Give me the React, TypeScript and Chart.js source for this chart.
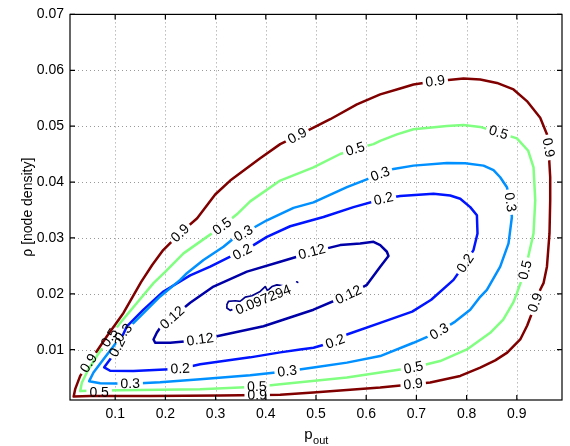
import { useEffect, useRef } from 'react';
import { Chart, registerables } from 'chart.js';

Chart.register(...registerables);

const FONT = '"Liberation Sans", Arial, Helvetica, sans-serif';

const xTicks = [0.1, 0.2, 0.3, 0.4, 0.5, 0.6, 0.7, 0.8, 0.9];
const xTickLabels = ['0.1', '0.2', '0.3', '0.4', '0.5', '0.6', '0.7', '0.8', '0.9'];
const yTicks = [0.01, 0.02, 0.03, 0.04, 0.05, 0.06, 0.07];
const yTickLabels = ['0.01', '0.02', '0.03', '0.04', '0.05', '0.06', '0.07'];

const levelNames = ['0.097294', '0.12', '0.2', '0.3', '0.5', '0.9'];
const levelColors = ['#00008c', '#0000a8', '#0014ff', '#0090ff', '#80ff80', '#800000'];
const levelWidths = [1.7, 2.5, 2.5, 2.5, 2.5, 2.5];

const contour0097 = [
  [0.3225, 0.01805], [0.3257, 0.01864], [0.339, 0.01876], [0.349, 0.01864], [0.359, 0.01942],
  [0.3723, 0.01965], [0.3888, 0.02042], [0.3988, 0.0213], [0.4034, 0.02059], [0.4122, 0.0213],
  [0.4221, 0.02161], [0.4353, 0.02143], [0.4452, 0.02113], [0.4486, 0.02059], [0.4386, 0.01983],
  [0.4088, 0.01894], [0.3789, 0.01823], [0.3456, 0.01764], [0.3291, 0.01704], [0.3225, 0.01747],
  [0.3225, 0.01805],
];
const contour0097Dot = [[0.4615, 0.02214], [0.4635, 0.02205]];

const contour012 = [
  [0.1797, 0.01124], [0.2096, 0.01124], [0.2428, 0.01153], [0.2693, 0.01183], [0.3026, 0.01242],
  [0.3954, 0.01419], [0.495, 0.01716], [0.5647, 0.01983], [0.6014, 0.02161], [0.6279, 0.02486],
  [0.6444, 0.02676], [0.6412, 0.02753], [0.6279, 0.02872], [0.6145, 0.0293], [0.588, 0.02902],
  [0.5482, 0.02872], [0.5217, 0.02813], [0.4918, 0.02753], [0.462, 0.02664], [0.4287, 0.02575],
  [0.3624, 0.02397], [0.2958, 0.0213], [0.2494, 0.01841], [0.2135, 0.01574], [0.1962, 0.0148],
  [0.1831, 0.01307], [0.1763, 0.01183], [0.1797, 0.01124],
];

const contour02 = [
  [0.0781, 0.00685], [0.09, 0.00623], [0.1365, 0.0062], [0.2295, 0.00659], [0.2693, 0.00739],
  [0.3689, 0.00863], [0.4287, 0.00952], [0.4685, 0.01005], [0.495, 0.01036], [0.5382, 0.01147],
  [0.5616, 0.01272], [0.6279, 0.0148], [0.6916, 0.01681], [0.7295, 0.01894], [0.7739, 0.0225],
  [0.7972, 0.02546], [0.8137, 0.02783], [0.8217, 0.0308], [0.8205, 0.03405], [0.8072, 0.03552],
  [0.7873, 0.03702], [0.7673, 0.0376], [0.7341, 0.03791], [0.6677, 0.03751], [0.6345, 0.03702],
  [0.5747, 0.03552], [0.5149, 0.03375], [0.4486, 0.03209], [0.4022, 0.03019], [0.353, 0.02747],
  [0.3291, 0.02664], [0.2892, 0.02486], [0.2494, 0.0233], [0.1962, 0.02042], [0.1564, 0.01716],
  [0.1233, 0.01419], [0.104, 0.01041], [0.09, 0.00828], [0.0781, 0.00685],
];

const contour03 = [
  [0.0482, 0.00437], [0.0701, 0.00401], [0.1299, 0.00392], [0.1896, 0.00419], [0.2693, 0.00472],
  [0.3689, 0.00543], [0.4426, 0.00614], [0.495, 0.0068], [0.5616, 0.00769], [0.6279, 0.00886],
  [0.6942, 0.01124], [0.7454, 0.01325], [0.7773, 0.01503], [0.8072, 0.01716], [0.8271, 0.01947],
  [0.8404, 0.02072], [0.8669, 0.02486], [0.8835, 0.02902], [0.8902, 0.03375], [0.8869, 0.03641],
  [0.8803, 0.03908], [0.8669, 0.04086], [0.8536, 0.04214], [0.8337, 0.04294], [0.7972, 0.04338],
  [0.7608, 0.04342], [0.6942, 0.04294], [0.6544, 0.04235], [0.6279, 0.04143], [0.5616, 0.03908],
  [0.495, 0.03636], [0.4552, 0.03538], [0.4022, 0.03316], [0.3556, 0.0308], [0.3357, 0.02991],
  [0.3157, 0.02841], [0.2759, 0.02605], [0.2428, 0.02369], [0.2295, 0.0225], [0.1896, 0.01953],
  [0.1498, 0.01597], [0.1165, 0.01302], [0.0966, 0.01064], [0.0767, 0.00828], [0.0568, 0.00591],
  [0.0482, 0.00437],
];

const contour05 = [
  [0.0303, 0.00259], [0.0701, 0.00268], [0.2693, 0.00294], [0.3823, 0.00339], [0.4287, 0.00383],
  [0.5616, 0.00502], [0.6279, 0.00591], [0.6942, 0.0068], [0.7474, 0.00797], [0.8006, 0.01005],
  [0.847, 0.01302], [0.8729, 0.01539], [0.8928, 0.01841], [0.9002, 0.02013], [0.9167, 0.02427],
  [0.9333, 0.0308], [0.9367, 0.03672], [0.9333, 0.04263], [0.9227, 0.0456], [0.9002, 0.04782],
  [0.8635, 0.04886], [0.8271, 0.04987], [0.7938, 0.05022], [0.7608, 0.05005], [0.6942, 0.04946],
  [0.6612, 0.04854], [0.6279, 0.04738], [0.6145, 0.04679], [0.5781, 0.0459], [0.5482, 0.04502],
  [0.495, 0.04263], [0.4287, 0.04027], [0.3689, 0.03654], [0.3424, 0.03423], [0.3131, 0.03209],
  [0.2827, 0.03019], [0.2361, 0.02724], [0.1996, 0.02392], [0.1763, 0.02191], [0.1432, 0.01835],
  [0.11, 0.0148], [0.0886, 0.01213], [0.0635, 0.00886], [0.0468, 0.0065], [0.0337, 0.00413],
  [0.0303, 0.00259],
];

const contour09 = [
  [0.0173, 0.00161], [0.0502, 0.0017], [0.1697, 0.0017], [0.3092, 0.00179], [0.4287, 0.00193],
  [0.4944, 0.00236], [0.5681, 0.00285], [0.6279, 0.00325], [0.6936, 0.00383], [0.7275, 0.00413],
  [0.7873, 0.00531], [0.8271, 0.0068], [0.857, 0.0081], [0.8809, 0.00947], [0.9068, 0.01183],
  [0.9207, 0.01432], [0.9327, 0.01716], [0.9466, 0.02072], [0.9532, 0.02191], [0.96, 0.02486],
  [0.9651, 0.0308], [0.9665, 0.03672], [0.9665, 0.04086], [0.9631, 0.04619], [0.96, 0.04857],
  [0.9466, 0.05152], [0.9201, 0.05449], [0.8934, 0.05657], [0.8604, 0.05774], [0.8271, 0.05835],
  [0.7938, 0.05852], [0.7739, 0.05835], [0.7375, 0.05804], [0.6942, 0.05746], [0.6677, 0.05675],
  [0.6279, 0.05568], [0.5815, 0.0539], [0.5283, 0.05124], [0.495, 0.04974], [0.4625, 0.04827],
  [0.4287, 0.04679], [0.3888, 0.04427], [0.3291, 0.04027], [0.2992, 0.03778], [0.2633, 0.03352],
  [0.2295, 0.03085], [0.1956, 0.02783], [0.1737, 0.02516], [0.1518, 0.02214], [0.1165, 0.01658],
  [0.0835, 0.01242], [0.0472, 0.00757], [0.0303, 0.00531], [0.0203, 0.00294], [0.0173, 0.00161],
];

// [level index, x, y, text angle in degrees]
const contourLabels: [number, number, number, number][] = [
  [5, 0.0472, 0.00757, -57], [5, 0.2295, 0.03085, -43], [5, 0.4625, 0.04827, -28],
  [5, 0.7375, 0.05804, -7], [5, 0.9631, 0.04619, 80], [5, 0.9367, 0.01841, -70],
  [5, 0.6936, 0.00383, -6], [5, 0.3829, 0.00188, -1],
  [4, 0.0886, 0.01213, -56], [4, 0.3131, 0.03209, -36], [4, 0.5781, 0.0459, -17],
  [4, 0.8635, 0.04886, 17], [4, 0.9167, 0.02427, -76], [4, 0.6942, 0.0068, -11],
  [4, 0.3823, 0.00339, -2], [4, 0.0681, 0.00232, 0],
  [3, 0.1165, 0.01302, -50], [3, 0.3556, 0.0308, -30], [3, 0.6279, 0.04143, -21],
  [3, 0.8869, 0.03641, 81], [3, 0.7454, 0.01325, -30], [3, 0.4426, 0.00614, -7],
  [3, 0.1299, 0.00392, -1],
  [2, 0.104, 0.01041, -62], [2, 0.353, 0.02747, -28], [2, 0.6345, 0.03702, -13],
  [2, 0.7972, 0.02546, -56], [2, 0.5382, 0.01147, -20], [2, 0.2295, 0.00659, -3],
  [1, 0.2135, 0.01574, -42], [1, 0.4918, 0.02753, -15], [1, 0.5647, 0.01983, -25],
  [1, 0.2693, 0.01183, -8],
  [0, 0.3948, 0.01894, -22],
];

const series: { data: number[][]; level: number }[] = [
  { data: contour09, level: 5 },
  { data: contour05, level: 4 },
  { data: contour03, level: 3 },
  { data: contour02, level: 2 },
  { data: contour012, level: 1 },
  { data: contour0097, level: 0 },
  { data: contour0097Dot, level: 0 },
];

const LABEL_FONT = `14px ${FONT}`;

function labelGeom(chart: any, lab: [number, number, number, number]) {
  const { x, y } = chart.scales;
  return {
    cx: x.getPixelForValue(lab[1]),
    cy: y.getPixelForValue(lab[2]),
    r: (lab[3] * Math.PI) / 180,
  };
}

const decoPlugin = {
  id: 'contourDeco',
  beforeDatasetsDraw(chart: any) {
    const { ctx, chartArea: a, scales } = chart;
    ctx.save();
    ctx.strokeStyle = '#999999';
    ctx.lineWidth = 1;
    ctx.setLineDash([1, 3]);
    ctx.beginPath();
    xTicks.forEach((v) => {
      const px = Math.round(scales.x.getPixelForValue(v)) + 0.5;
      ctx.moveTo(px, a.top);
      ctx.lineTo(px, a.bottom);
    });
    yTicks.forEach((v) => {
      const py = Math.round(scales.y.getPixelForValue(v)) + 0.5;
      if (py > a.top + 2) {
        ctx.moveTo(a.left, py);
        ctx.lineTo(a.right, py);
      }
    });
    ctx.stroke();
    ctx.restore();
  },
  beforeDatasetDraw(chart: any, args: any) {
    const ds = chart.data.datasets[args.index];
    const lvl = ds.levelIndex;
    const ctx = chart.ctx;
    ctx.save();
    ctx.font = LABEL_FONT;
    ctx.beginPath();
    ctx.rect(0, 0, chart.width, chart.height);
    contourLabels.forEach((lab) => {
      if (lab[0] !== lvl) return;
      const { cx, cy, r } = labelGeom(chart, lab);
      const w = ctx.measureText(levelNames[lab[0]]).width + 6;
      const h = 13;
      const c = Math.cos(r);
      const s = Math.sin(r);
      const pts = [[-w / 2, -h / 2], [w / 2, -h / 2], [w / 2, h / 2], [-w / 2, h / 2]];
      pts.forEach(([dx, dy], k) => {
        const px = cx + dx * c - dy * s;
        const py = cy + dx * s + dy * c;
        if (k === 0) ctx.moveTo(px, py);
        else ctx.lineTo(px, py);
      });
      ctx.closePath();
    });
    ctx.clip('evenodd');
  },
  afterDatasetDraw(chart: any) {
    chart.ctx.restore();
  },
  afterDatasetsDraw(chart: any) {
    const ctx = chart.ctx;
    ctx.save();
    ctx.font = LABEL_FONT;
    ctx.fillStyle = '#000';
    ctx.textAlign = 'center';
    ctx.textBaseline = 'middle';
    contourLabels.forEach((lab) => {
      const { cx, cy, r } = labelGeom(chart, lab);
      ctx.save();
      ctx.translate(cx, cy);
      ctx.rotate(r);
      ctx.fillText(levelNames[lab[0]], 0, 0.5);
      ctx.restore();
    });
    ctx.restore();
  },
  afterDraw(chart: any) {
    const { ctx, chartArea: a, scales } = chart;
    ctx.save();
    ctx.strokeStyle = '#000';
    ctx.lineWidth = 1.2;
    ctx.beginPath();
    xTicks.forEach((v) => {
      const px = scales.x.getPixelForValue(v);
      ctx.moveTo(px, a.bottom);
      ctx.lineTo(px, a.bottom - 5);
      ctx.moveTo(px, a.top);
      ctx.lineTo(px, a.top + 5);
    });
    yTicks.forEach((v) => {
      const py = scales.y.getPixelForValue(v);
      ctx.moveTo(a.left, py);
      ctx.lineTo(a.left + 5, py);
      ctx.moveTo(a.right, py);
      ctx.lineTo(a.right - 5, py);
    });
    ctx.stroke();
    ctx.strokeRect(a.left, a.top, a.right - a.left, a.bottom - a.top);

    // axis titles
    ctx.fillStyle = '#000';
    ctx.font = `14px ${FONT}`;
    ctx.textAlign = 'center';
    ctx.textBaseline = 'middle';
    ctx.save();
    ctx.translate(28, (a.top + a.bottom) / 2);
    ctx.rotate(-Math.PI / 2);
    ctx.fillText('\u03c1 [node density]', 0, 0);
    ctx.restore();

    ctx.textBaseline = 'alphabetic';
    ctx.textAlign = 'left';
    const mainFont = `15px ${FONT}`;
    const subFont = `11px ${FONT}`;
    ctx.font = mainFont;
    const wMain = ctx.measureText('p').width;
    ctx.font = subFont;
    const wSub = ctx.measureText('out').width;
    const x0 = (a.left + a.right) / 2 - (wMain + wSub) / 2;
    ctx.font = mainFont;
    ctx.fillText('p', x0, 439);
    ctx.font = subFont;
    ctx.fillText('out', x0 + wMain + 0.5, 443.5);
    ctx.restore();
  },
};

export default function App() {
  const ref = useRef<HTMLCanvasElement>(null);
  useEffect(() => {
    const canvas = ref.current;
    if (!canvas) return;
    const chart = new Chart(canvas, {
      type: 'scatter',
      data: {
        datasets: series.map((s) => ({
          data: s.data.map(([x, y]) => ({ x, y })),
          levelIndex: s.level,
          showLine: true,
          spanGaps: false,
          borderColor: levelColors[s.level],
          backgroundColor: levelColors[s.level],
          borderWidth: levelWidths[s.level],
          borderJoinStyle: 'round',
          borderCapStyle: 'round',
          pointRadius: 0,
          pointHoverRadius: 0,
          fill: false,
          tension: 0,
        })) as any,
      },
      options: {
        responsive: false,
        animation: false,
        events: [],
        layout: { padding: { top: 12.7, right: 8, left: 0, bottom: 0 } },
        plugins: { legend: { display: false }, tooltip: { enabled: false } },
        scales: {
          x: {
            type: 'linear',
            min: 0.01,
            max: 0.99,
            grid: { display: false, drawTicks: false },
            border: { display: false },
            afterBuildTicks: (s: any) => {
              s.ticks = xTicks.map((v) => ({ value: v }));
            },
            afterFit: (s: any) => {
              s.height = 46;
            },
            ticks: {
              autoSkip: false,
              maxRotation: 0,
              padding: 6,
              color: '#000',
              font: { family: FONT, size: 14 },
              callback: (_v: any, i: number) => xTickLabels[i],
            },
          },
          y: {
            type: 'linear',
            min: 0.001,
            max: 0.07,
            grid: { display: false, drawTicks: false },
            border: { display: false },
            afterBuildTicks: (s: any) => {
              s.ticks = yTicks.map((v) => ({ value: v }));
            },
            afterFit: (s: any) => {
              s.width = 70;
            },
            ticks: {
              autoSkip: false,
              padding: 6,
              color: '#000',
              font: { family: FONT, size: 14 },
              callback: (_v: any, i: number) => yTickLabels[i],
            },
          },
        },
      } as any,
      plugins: [decoPlugin as any],
    });
    return () => chart.destroy();
  }, []);
  return (
    <div style={{ position: 'absolute', left: 0, top: 0, width: 570, height: 446, background: '#fff' }}>
      <canvas ref={ref} width={570} height={446} style={{ display: 'block', width: 570, height: 446 }} />
    </div>
  );
}
